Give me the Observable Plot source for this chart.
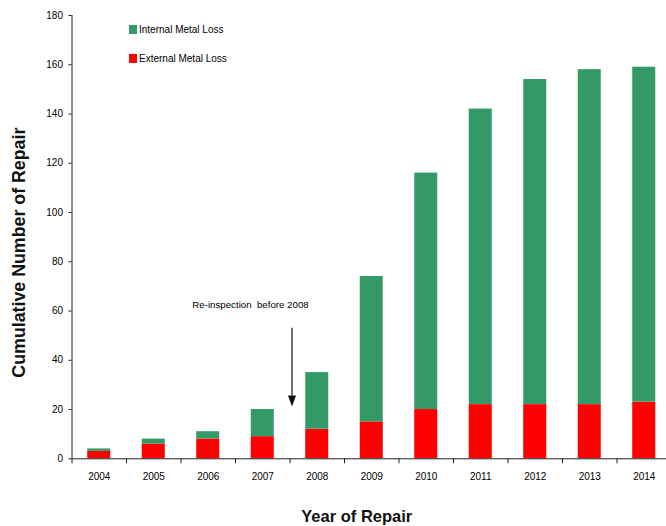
<!DOCTYPE html>
<html>
<head>
<meta charset="utf-8">
<script src="https://cdn.jsdelivr.net/npm/d3@7"></script>
<script src="https://cdn.jsdelivr.net/npm/@observablehq/plot@0.6"></script>
<style>
  html, body { margin: 0; padding: 0; background: #fff; overflow: hidden; }
  #chart { position: relative; width: 666px; height: 526px; overflow: hidden;
           font-family: "Liberation Sans", Arial, sans-serif; color: #000; }
  #chart svg { max-width: none; }
  .legend-item { position: absolute; display: flex; align-items: center; font-size: 10px; white-space: nowrap; }
  .legend-item .swatch { width: 8px; height: 9px; margin-right: 2px; }
</style>
</head>
<body>
<div id="chart"></div>
<script>
// Year of repair and cumulative repair counts, split by defect type
const years = [2004, 2005, 2006, 2007, 2008, 2009, 2010, 2011, 2012, 2013, 2014];
const externalLoss = [3, 6, 8, 9, 12, 15, 20, 22, 22, 22, 23];
const internalLoss = [1, 2, 3, 11, 23, 59, 96, 120, 132, 136, 136];
const yTicks = [0, 20, 40, 60, 80, 100, 120, 140, 160, 180];

const seriesNames = ["Internal Metal Loss", "External Metal Loss"];
const seriesColors = ["#339966", "#ff0000"];

const annotation = "Re-inspection  before 2008";
const reinspectionYear = 2008;
const arrowTop = 53;
const arrowTip = 23.5;

// Stacked segments: external at the bottom, internal on top
const rows = [];
years.forEach((yr, i) => {
  rows.push({year: yr, type: seriesNames[1], y1: 0, y2: externalLoss[i]});
  rows.push({year: yr, type: seriesNames[0], y1: externalLoss[i], y2: externalLoss[i] + internalLoss[i]});
});

// Category boundaries on the x axis
const boundaries = years.map(y => y - 0.5).concat([years[years.length - 1] + 0.5]);

// Narrow downward-pointing arrowhead
const arrowHead = {
  draw(ctx) {
    ctx.moveTo(-4, -5.5);
    ctx.lineTo(4, -5.5);
    ctx.lineTo(0, 5.5);
    ctx.closePath();
  }
};

const chart = Plot.plot({
  width: 671,
  height: 526,
  marginLeft: 71.5,
  marginRight: 0,
  marginTop: 15,
  marginBottom: 67.7,
  style: {fontFamily: "'Liberation Sans', Arial, sans-serif", color: "#000", background: "#fff"},
  x: {domain: [boundaries[0], boundaries[boundaries.length - 1]]},
  y: {domain: [0, 180]},
  color: {domain: seriesNames, range: seriesColors},
  marks: [
    Plot.rectY(rows, {
      x1: d => d.year - 0.5,
      x2: d => d.year + 0.5,
      y1: "y1",
      y2: "y2",
      fill: "type",
      insetLeft: 15.75,
      insetRight: 15.75
    }),
    Plot.ruleX([boundaries[0]], {stroke: "#222", strokeWidth: 1}),
    Plot.ruleY([0], {stroke: "#222", strokeWidth: 1}),
    Plot.axisY({ticks: yTicks, tickSize: 3, tickPadding: 6, fontSize: 10, label: null, stroke: "#222"}),
    Plot.axisX({ticks: years, tickSize: 0, tickPadding: 14, fontSize: 10, tickFormat: d => String(d), label: null}),
    Plot.axisX({ticks: boundaries, tickSize: 5, tickFormat: () => "", label: null, stroke: "#222"}),
    // Annotation with arrow pointing at the 2007/2008 boundary
    Plot.text([annotation], {x: reinspectionYear - 0.5, y: 62.6, dx: -39.5, fontSize: 9.7, fill: "#000"}),
    Plot.ruleX([reinspectionYear - 0.5], {y1: arrowTop, y2: arrowTip + 2, dx: 2, stroke: "#111", strokeWidth: 1.2}),
    Plot.dot([reinspectionYear - 0.5], {x: d => d, y: arrowTip, dx: 2, symbol: arrowHead, fill: "#111", stroke: "none", r: 4}),
    // Axis titles
    Plot.text(["Cumulative Number of Repair"], {
      frameAnchor: "left", textAnchor: "middle", lineAnchor: "middle",
      rotate: -90, dx: -52.5, dy: 15.5,
      fontSize: 17.8, fontWeight: "bold", fill: "#111"
    }),
    Plot.text(["Year of Repair"], {
      frameAnchor: "bottom", lineAnchor: "middle", dx: -15, dy: 58,
      fontSize: 16.5, fontWeight: "bold", fill: "#111"
    })
  ]
});
chart.style.maxWidth = "none";

const container = document.getElementById("chart");
container.appendChild(chart);

// Legend
const legendTops = [25, 54];
seriesNames.forEach((name, i) => {
  const item = document.createElement("div");
  item.className = "legend-item";
  item.style.left = "129px";
  item.style.top = (legendTops[i] - 1) + "px";
  item.style.height = "11px";
  const sw = document.createElement("span");
  sw.className = "swatch";
  sw.style.background = seriesColors[i];
  const label = document.createElement("span");
  label.textContent = name;
  item.appendChild(sw);
  item.appendChild(label);
  container.appendChild(item);
});
</script>
</body>
</html>
